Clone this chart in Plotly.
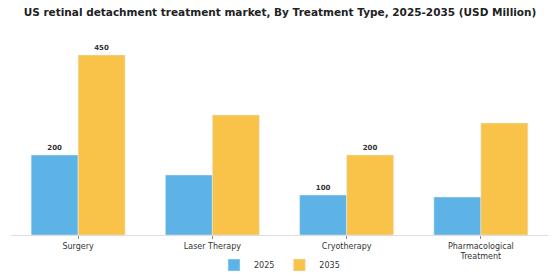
import plotly.graph_objects as go

categories = ["Surgery", "Laser Therapy", "Cryotherapy", "Pharmacological<br>Treatment"]
values_2025 = [200, 150, 100, 95]
values_2035 = [450, 300, 200, 280]
labels_2025 = ["200", "", "100", ""]
labels_2035 = ["450", "", "200", ""]

blue = "#5DB3E6"
orange = "#F9C34A"

fig = go.Figure()
fig.add_trace(go.Bar(
    x=categories, y=values_2025, name="2025", marker_color=blue,
    text=labels_2025, textposition="outside", cliponaxis=False,
    textfont=dict(family="DejaVu Sans", size=7, color="#333333", weight="bold"),
))
fig.add_trace(go.Bar(
    x=categories, y=values_2035, name="2035", marker_color=orange,
    text=labels_2035, textposition="outside", cliponaxis=False,
    textfont=dict(family="DejaVu Sans", size=7, color="#333333", weight="bold"),
))

fig.update_layout(
    width=560, height=280,
    barmode="group", bargap=0.3, bargroupgap=0,
    plot_bgcolor="white", paper_bgcolor="white",
    margin=dict(l=11, r=12, t=35, b=45, autoexpand=False),
    font=dict(family="DejaVu Sans", size=8, color="#333333"),
    title=dict(
        text="<b>US retinal detachment treatment market, By Treatment Type, 2025-2035 (USD Million)</b>",
        x=0.5, xanchor="center", y=0.955, yanchor="middle",
        font=dict(family="DejaVu Sans", size=10.5, color="#222222"),
    ),
    legend=dict(
        orientation="h", x=0.5, xanchor="center",
        yref="container", y=(280 - 265) / 280, yanchor="middle",
        font=dict(size=8, color="#333333"), itemwidth=30,
    ),
    xaxis=dict(
        showline=True, linecolor="#dddddd", linewidth=1,
        ticks="outside", tickcolor="#888888", ticklen=3,
        tickfont=dict(size=8, color="#333333"), automargin=False,
    ),
    yaxis=dict(range=[0, 500], visible=False, showgrid=False),
)
fig.write_html("out.html")
